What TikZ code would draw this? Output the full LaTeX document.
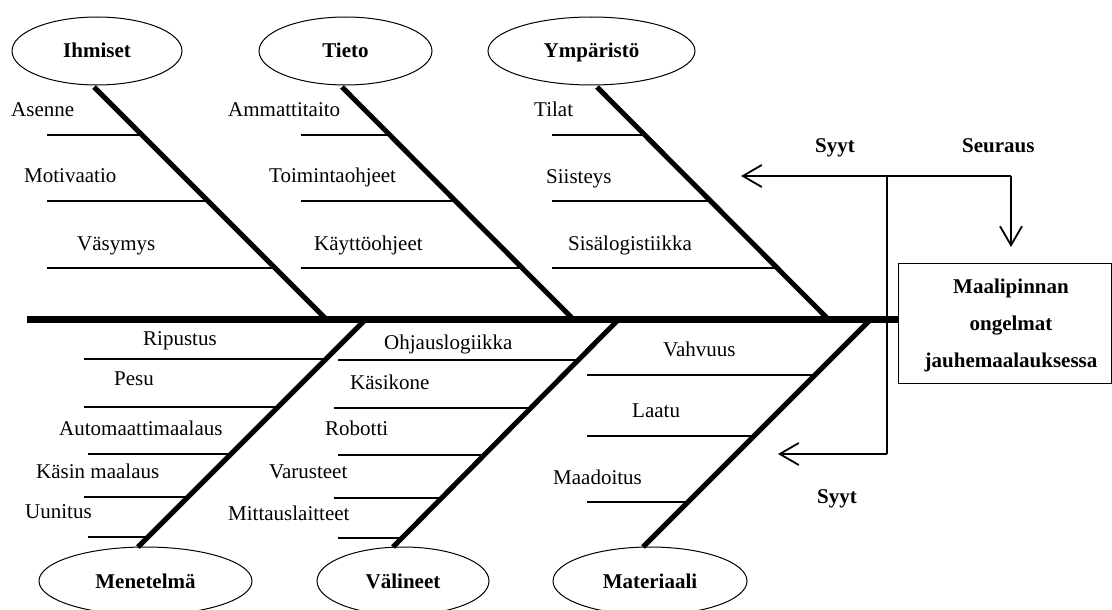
\documentclass[tikz,border=0pt]{standalone}
\usepackage{fontspec}
\setmainfont{Liberation Serif}
\usetikzlibrary{arrows.meta,shapes.geometric}
\begin{document}
\begin{tikzpicture}[x=1pt,y=-1pt,
  txt/.style={font=\fontsize{21}{25}\selectfont},
  cat/.style={ellipse,draw,line width=1pt,minimum width=#1,minimum height=68pt,inner sep=0pt,
    text height=14pt,text depth=0pt,font=\fontsize{21}{25}\selectfont\bfseries},
  lbl/.style={anchor=base west,inner sep=0pt,font=\fontsize{21}{25}\selectfont},
  hdr/.style={anchor=base west,inner sep=0pt,font=\fontsize{21}{25}\selectfont\bfseries},
  spine/.style={line width=7pt},
  bone/.style={line width=5pt},
  sub/.style={line width=2pt},
  arr/.style={line width=1.8pt,-{Straight Barb[length=19pt,width=22pt,line width=1.8pt]}},
  plain/.style={line width=1.8pt}]
\useasboundingbox (0,0) rectangle (1112,610);

% category ellipses
\node[cat=170pt] (ihm) at (97,51) {Ihmiset};
\node[cat=173pt] (tie) at (345.5,51) {Tieto};
\node[cat=207pt] (ymp) at (591.5,51) {Ympäristö};
\node[cat=213pt] (men) at (145.5,581) {Menetelmä};
\node[cat=172pt] (val) at (403,581) {Välineet};
\node[cat=194pt] (mat) at (650,581) {Materiaali};

% effect box
\node[draw,line width=1pt,minimum width=213pt,minimum height=120pt,inner sep=0pt] (eff) at (1004.5,323) {};
\node[align=center,inner sep=0pt,font=\fontsize{21}{37}\selectfont\bfseries] (efftxt) at (1011,325)
  {Maalipinnan\\ongelmat\\jauhemaalauksessa};

% spine
\coordinate (tail) at (27,319);
\draw[spine] (tail) -- (eff.west |- tail);

% bone coordinates
\coordinate (ihmT) at (94,87);  \coordinate (ihmB) at (325,318);
\coordinate (tieT) at (342,87); \coordinate (tieB) at (572,318);
\coordinate (ympT) at (597,87); \coordinate (ympB) at (827,318);
\coordinate (menT) at (365,320); \coordinate (menB) at (138,547);
\coordinate (valT) at (618,320); \coordinate (valB) at (393,547);
\coordinate (matT) at (870,320); \coordinate (matB) at (643,547);
\draw[bone] (ihmT) -- (ihmB);
\draw[bone] (tieT) -- (tieB);
\draw[bone] (ympT) -- (ympB);
\draw[bone] (menT) -- (menB);
\draw[bone] (valT) -- (valB);
\draw[bone] (matT) -- (matB);

% Ihmiset
\draw[sub] (47,135) -- (142,135);
\draw[sub] (47,201) -- (208.5,201);
\draw[sub] (47,268) -- (275.7,268);
\node[lbl] (l1) at (11,117) {Asenne};
\node[lbl] (l2) at (24,182) {Motivaatio};
\node[lbl] (l3) at (77,250) {Väsymys};

% Tieto
\draw[sub] (301,135) -- (390,135);
\draw[sub] (301,201) -- (456,201);
\draw[sub] (301,268) -- (523,268);
\node[lbl] (l4) at (228,117) {Ammattitaito};
\node[lbl] (l5) at (269,182) {Toimintaohjeet};
\node[lbl] (l6) at (314,250) {Käyttöohjeet};

% Ympäristö
\draw[sub] (552,135) -- (645,135);
\draw[sub] (552,201) -- (711,201);
\draw[sub] (552,268) -- (778,268);
\node[lbl] (l7) at (534,117) {Tilat};
\node[lbl] (l8) at (546,183) {Siisteys};
\node[lbl] (l9) at (568,250) {Sisälogistiikka};

% Menetelmä
\draw[sub] (84,359) -- (327,359);
\draw[sub] (84,407) -- (279,407);
\draw[sub] (88,454) -- (231.5,454);
\draw[sub] (84,497) -- (188,497);
\draw[sub] (88,537) -- (148,537);
\node[lbl] (m1) at (143,345) {Ripustus};
\node[lbl] (m2) at (114,385) {Pesu};
\node[lbl] (m3) at (59,435) {Automaattimaalaus};
\node[lbl] (m4) at (36,478) {Käsin maalaus};
\node[lbl] (m5) at (25,518) {Uunitus};

% Välineet
\draw[sub] (338,360) -- (579,360);
\draw[sub] (334,408) -- (531.5,408);
\draw[sub] (338,455) -- (484.5,455);
\draw[sub] (334,498) -- (442,498);
\draw[sub] (338,538) -- (402,538);
\node[lbl] (v1) at (384,349) {Ohjauslogiikka};
\node[lbl] (v2) at (350,389) {Käsikone};
\node[lbl] (v3) at (325,435) {Robotti};
\node[lbl] (v4) at (269,478) {Varusteet};
\node[lbl] (v5) at (228,520) {Mittauslaitteet};

% Materiaali
\draw[sub] (587,375) -- (816,375);
\draw[sub] (587,436) -- (754.5,436);
\draw[sub] (587,502) -- (688,502);
\node[lbl] (t1) at (663,356) {Vahvuus};
\node[lbl] (t2) at (632,417) {Laatu};
\node[lbl] (t3) at (553,484) {Maadoitus};

% cause / effect arrows
\coordinate (jtop) at (887,176);
\coordinate (jbot) at (887,454);
\coordinate (corner) at (1011,176);
\coordinate (downend) at (1011,247);
\coordinate (leftend) at (741,176);
\coordinate (botend) at (778,454);
\draw[plain] (jbot) -- (jtop) -- (corner);
\draw[arr] (corner) -- (downend);
\draw[arr] (jtop) -- (leftend);
\draw[arr] (jbot) -- (botend);
\node[hdr] (syyt1) at (815,152) {Syyt};
\node[hdr] (seur) at (962,152) {Seuraus};
\node[hdr] (syyt2) at (817,503) {Syyt};
\end{tikzpicture}
\end{document}
